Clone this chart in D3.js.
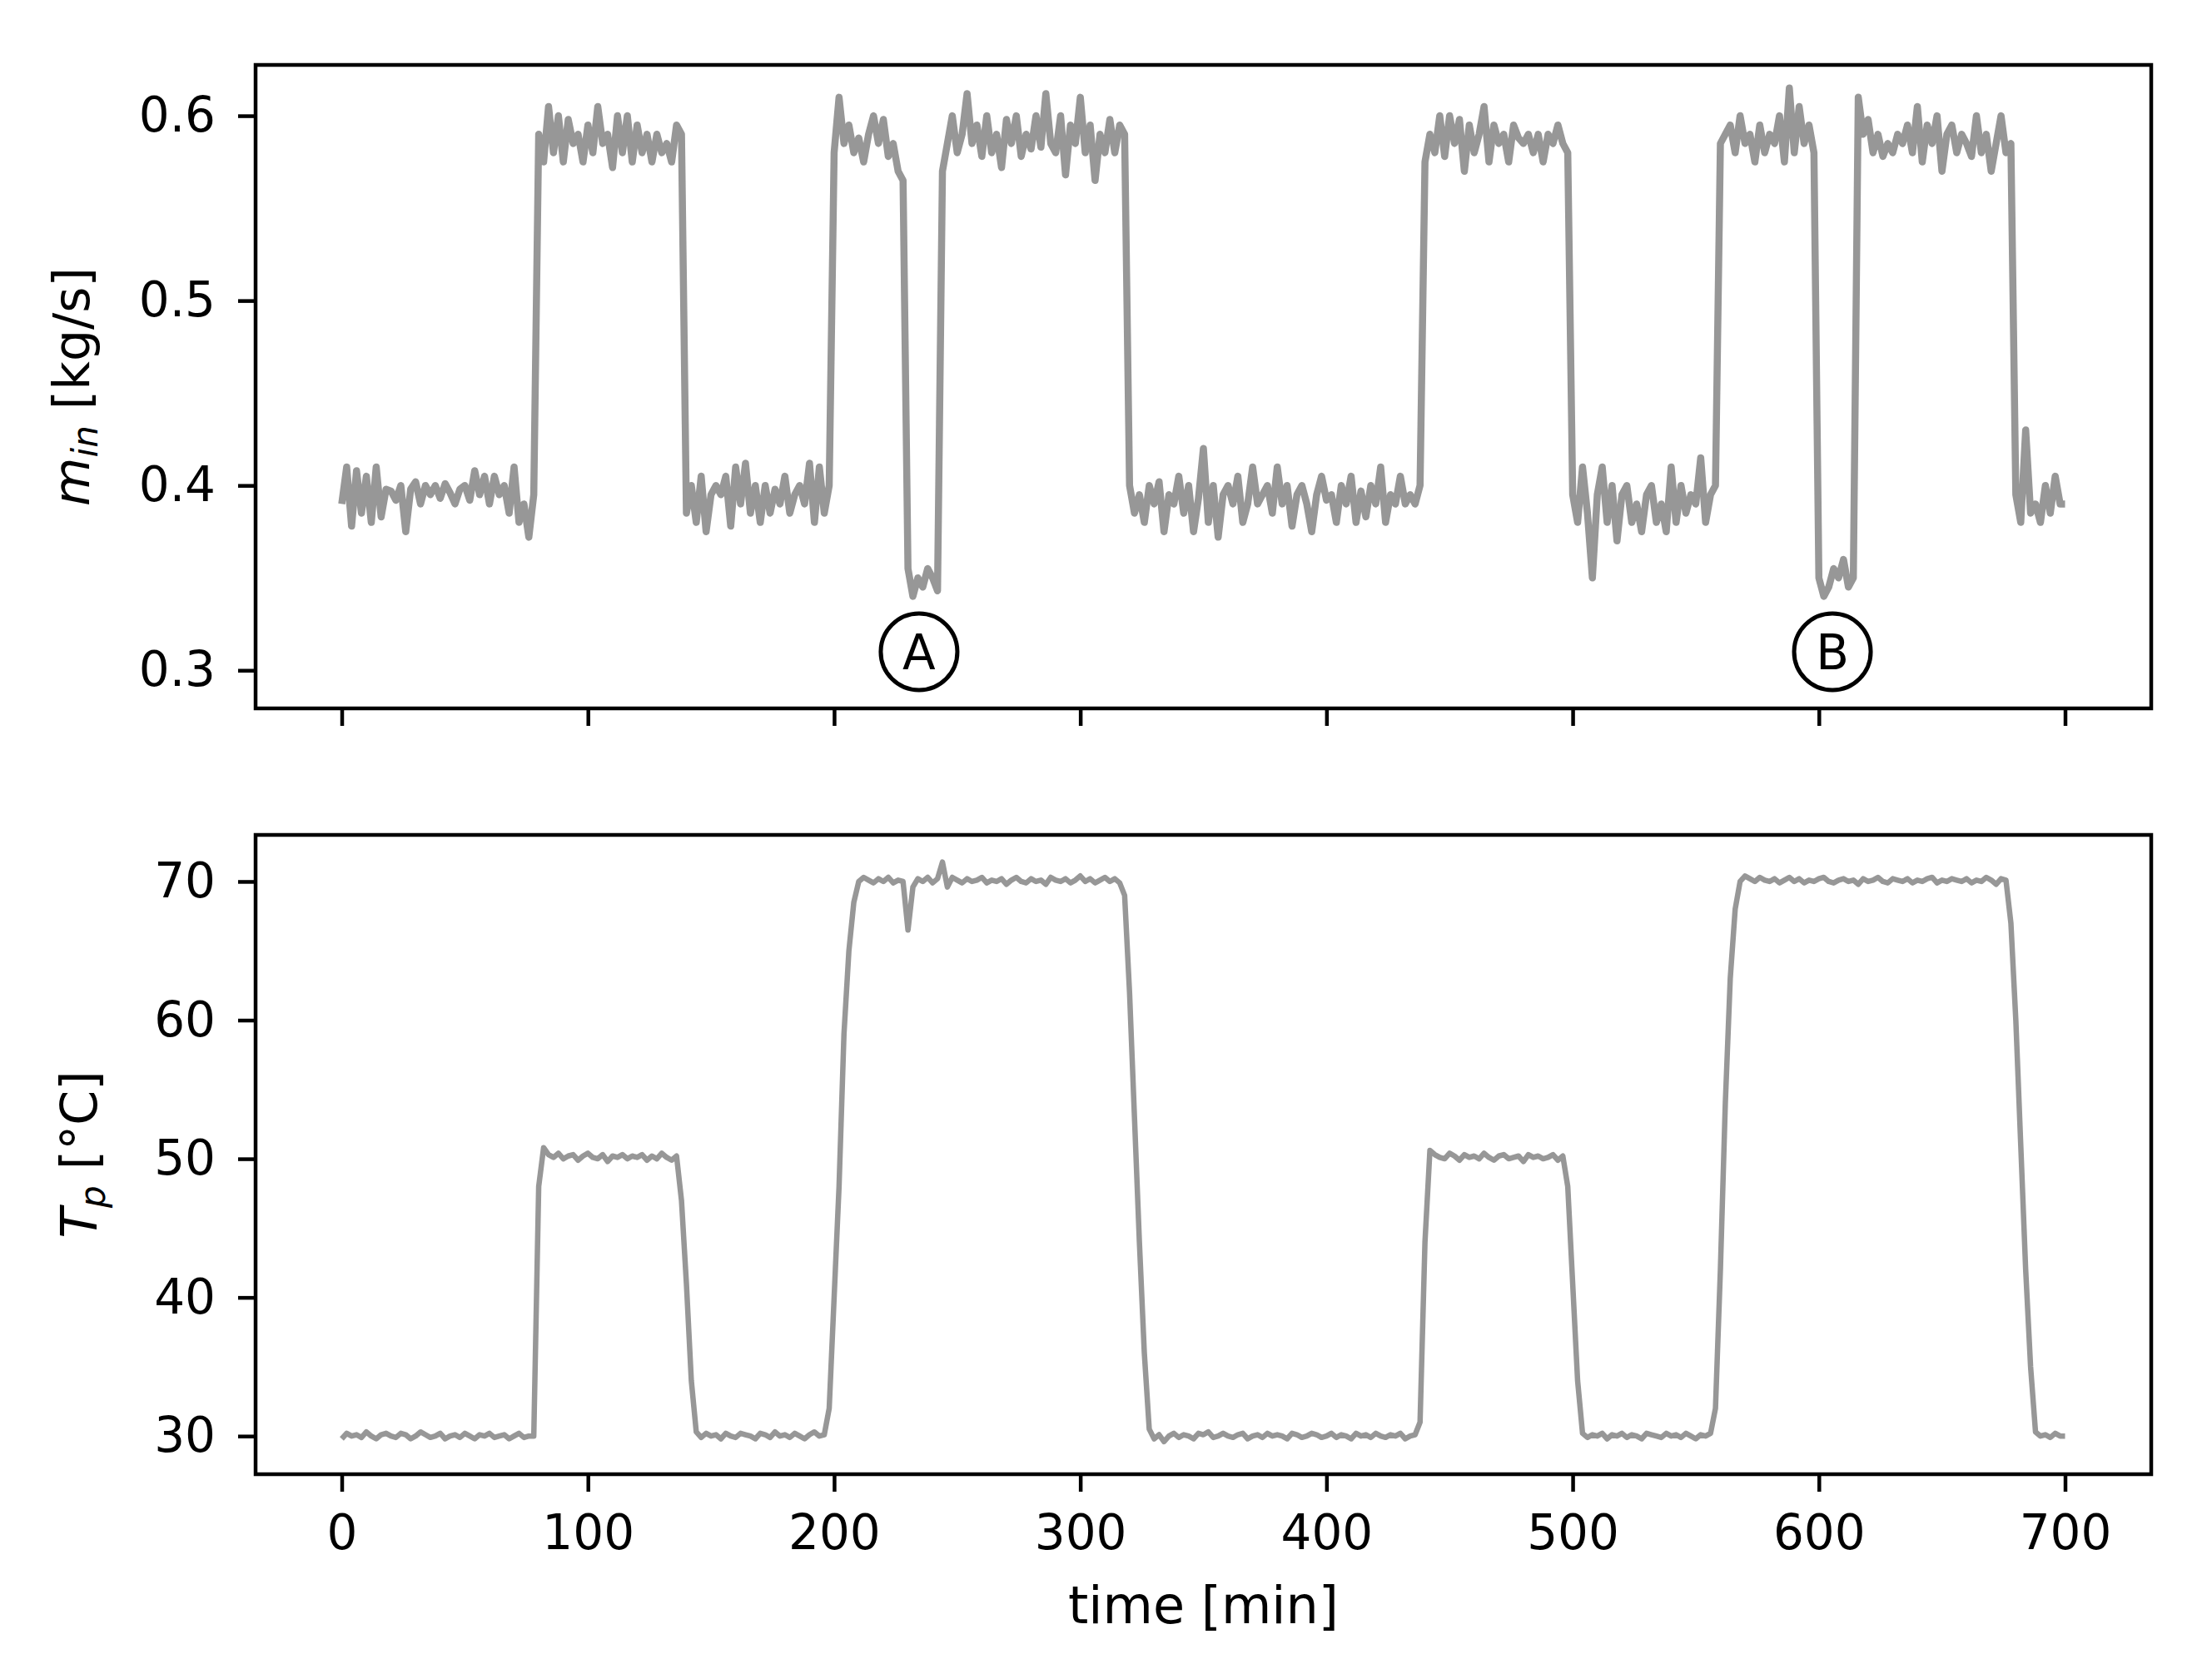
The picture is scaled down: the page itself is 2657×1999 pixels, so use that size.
<!DOCTYPE html>
<html>
<head>
<meta charset="utf-8">
<script src="https://cdn.jsdelivr.net/npm/d3@7"></script>
<style>
  html, body { margin: 0; padding: 0; background: #fff; }
  svg { display: block; }
  text { font-family: "DejaVu Sans", sans-serif; fill: #000; }
</style>
</head>
<body>
<svg id="chart" width="2657" height="1999"></svg>
<script>
// ---- Data (sampled every 2 minutes, t = 0 .. 700 min) ----
const sampleStepMin = 2;

const massFlowIn = [
  0.390,0.410,0.378,0.408,0.385,0.405,0.380,0.410,0.383,0.398,
  0.397,0.392,0.400,0.375,0.398,0.402,0.390,0.400,0.395,0.400,
  0.393,0.401,0.396,0.390,0.398,0.400,0.392,0.408,0.395,0.405,
  0.390,0.405,0.395,0.400,0.385,0.410,0.380,0.390,0.372,0.395,
  0.590,0.575,0.605,0.580,0.600,0.575,0.598,0.585,0.590,0.575,
  0.595,0.580,0.605,0.585,0.590,0.572,0.600,0.580,0.600,0.575,
  0.595,0.580,0.590,0.575,0.590,0.580,0.585,0.575,0.595,0.590,
  0.385,0.400,0.380,0.405,0.375,0.395,0.400,0.395,0.405,0.378,
  0.410,0.390,0.412,0.385,0.400,0.380,0.400,0.385,0.398,0.390,
  0.405,0.385,0.395,0.400,0.390,0.412,0.380,0.410,0.385,0.400,
  0.580,0.610,0.585,0.595,0.580,0.588,0.575,0.590,0.600,0.585,
  0.598,0.578,0.585,0.570,0.565,0.355,0.340,0.350,0.345,0.355,
  0.350,0.343,0.570,0.585,0.600,0.580,0.590,0.612,0.585,0.595,
  0.578,0.600,0.580,0.590,0.572,0.598,0.585,0.600,0.578,0.590,
  0.582,0.600,0.583,0.612,0.585,0.580,0.600,0.568,0.595,0.585,
  0.610,0.580,0.595,0.565,0.590,0.580,0.598,0.580,0.595,0.590,
  0.400,0.385,0.395,0.380,0.400,0.390,0.402,0.375,0.395,0.390,
  0.405,0.385,0.400,0.375,0.393,0.420,0.380,0.400,0.372,0.395,
  0.400,0.390,0.405,0.380,0.390,0.410,0.390,0.395,0.400,0.385,
  0.410,0.390,0.400,0.378,0.395,0.400,0.390,0.375,0.395,0.405,
  0.392,0.395,0.380,0.400,0.390,0.405,0.380,0.397,0.383,0.400,
  0.390,0.410,0.380,0.395,0.390,0.405,0.390,0.395,0.390,0.400,
  0.575,0.590,0.580,0.600,0.578,0.600,0.585,0.598,0.570,0.595,
  0.580,0.590,0.605,0.575,0.595,0.585,0.590,0.575,0.595,0.588,
  0.585,0.590,0.580,0.590,0.575,0.590,0.585,0.595,0.585,0.580,
  0.395,0.380,0.410,0.385,0.350,0.395,0.410,0.380,0.400,0.370,
  0.395,0.400,0.380,0.390,0.375,0.395,0.400,0.380,0.390,0.375,
  0.410,0.380,0.400,0.385,0.395,0.390,0.415,0.380,0.395,0.400,
  0.585,0.590,0.595,0.580,0.600,0.585,0.590,0.575,0.595,0.580,
  0.590,0.585,0.600,0.575,0.615,0.580,0.605,0.585,0.595,0.580,
  0.350,0.340,0.345,0.355,0.350,0.360,0.345,0.350,0.610,0.590,
  0.598,0.580,0.590,0.578,0.585,0.580,0.590,0.585,0.595,0.580,
  0.605,0.575,0.595,0.585,0.600,0.570,0.590,0.595,0.580,0.590,
  0.585,0.578,0.600,0.580,0.590,0.570,0.585,0.600,0.580,0.585,
  0.395,0.380,0.430,0.385,0.390,0.380,0.400,0.385,0.405,0.390,
  0.390
];

const tempP = [
  29.8,30.2,30.0,30.1,29.9,30.3,30.0,29.8,30.1,30.2,
  30.0,29.9,30.2,30.1,29.8,30.0,30.3,30.1,29.9,30.0,
  30.2,29.8,30.0,30.1,29.9,30.2,30.0,29.8,30.1,30.0,
  30.2,29.9,30.0,30.1,29.8,30.0,30.2,29.9,30.0,30.0,
  48.0,50.8,50.3,50.1,50.4,50.0,50.2,50.3,49.9,50.2,
  50.4,50.1,50.0,50.3,49.8,50.2,50.1,50.3,50.0,50.2,
  50.1,50.3,49.9,50.2,50.0,50.4,50.1,49.9,50.2,47.0,
  41.0,34.0,30.3,29.9,30.2,30.0,30.1,29.8,30.2,30.0,
  29.9,30.2,30.1,30.0,29.8,30.2,30.1,29.9,30.3,30.0,
  30.1,29.9,30.2,30.0,29.8,30.1,30.3,30.0,30.1,32.0,
  40.0,48.0,59.0,65.0,68.5,70.0,70.3,70.1,69.9,70.2,
  70.0,70.3,69.9,70.1,70.0,66.5,69.6,70.2,70.0,70.3,
  69.9,70.2,71.4,69.6,70.3,70.1,69.9,70.2,70.0,70.1,
  70.3,69.9,70.1,70.0,70.2,69.8,70.1,70.3,70.0,69.9,
  70.2,70.0,70.1,69.8,70.3,70.1,70.0,70.2,69.9,70.1,
  70.4,70.0,70.2,69.9,70.1,70.3,70.0,70.2,69.9,69.0,
  62.0,53.0,44.0,36.0,30.5,29.8,30.1,29.6,30.0,30.2,
  29.9,30.1,30.0,29.8,30.2,30.1,30.3,29.9,30.0,30.2,
  30.0,29.9,30.1,30.2,29.8,30.0,30.1,29.9,30.2,30.0,
  30.1,30.0,29.8,30.2,30.1,29.9,30.0,30.2,30.1,29.9,
  30.0,30.2,29.9,30.1,30.0,29.8,30.2,30.0,30.1,29.9,
  30.2,30.0,29.9,30.1,30.0,30.2,29.8,30.0,30.1,31.0,
  44.0,50.6,50.3,50.1,50.0,50.4,50.2,49.9,50.3,50.1,
  50.2,50.0,50.4,50.1,49.9,50.2,50.3,50.0,50.1,50.2,
  49.8,50.3,50.1,50.2,50.0,50.1,50.3,49.9,50.2,48.0,
  41.0,34.0,30.2,29.9,30.1,30.0,30.2,29.8,30.1,30.0,
  30.2,29.9,30.1,30.0,29.8,30.2,30.1,30.0,29.9,30.2,
  30.0,30.1,29.9,30.2,30.0,29.8,30.1,30.0,30.2,32.0,
  42.0,54.0,63.0,68.0,70.0,70.4,70.2,70.0,70.3,70.1,
  70.0,70.2,69.9,70.1,70.3,70.0,70.2,69.9,70.1,70.0,
  70.2,70.3,70.0,69.9,70.1,70.2,70.0,70.1,69.8,70.2,
  70.0,70.1,70.3,70.0,69.9,70.2,70.1,70.0,70.2,69.9,
  70.1,70.0,70.2,70.3,69.9,70.1,70.0,70.2,70.1,70.0,
  70.2,69.9,70.1,70.0,70.3,70.1,69.8,70.2,70.1,67.0,
  60.0,51.0,42.0,35.0,30.3,30.0,30.1,29.9,30.2,30.0,
  30.0
];

const xTicks = [0, 100, 200, 300, 400, 500, 600, 700];
const yTicksTop = [0.3, 0.4, 0.5, 0.6];
const yTicksBottom = [30, 40, 50, 60, 70];

const annotationLabels = ["A", "B"];
const annotationTimes = [234.5, 605.5];
const annotationValues = [0.31, 0.31];

// ---- Layout ----
const svg = d3.select("#chart");
const L = 307, R = 2584;
const top1 = 78, bot1 = 851;
const top2 = 1003, bot2 = 1771;
const lineColor = "#979797";
const FS = 58;

const x = d3.scaleLinear().domain([-35, 735]).range([L, R]);
const yTop = d3.scaleLinear().domain([0.2794, 0.6275]).range([bot1, top1]);
const yBot = d3.scaleLinear().domain([27.25, 73.36]).range([bot2, top2]);

const flowPts = massFlowIn.map((v, i) => [i * sampleStepMin, v]);
const tempPts = tempP.map((v, i) => [i * sampleStepMin, v]);

function styleAxis(g) {
  g.select(".domain").remove();
  g.selectAll(".tick line").attr("stroke", "#000").attr("stroke-width", 4.5);
  g.selectAll(".tick text").style("font-family", "DejaVu Sans").style("font-size", FS + "px").attr("fill", "#000");
}

// ---- Top panel ----
svg.append("path")
  .datum(flowPts)
  .attr("fill", "none")
  .attr("stroke", lineColor)
  .attr("stroke-width", 8.5)
  .attr("stroke-linejoin", "round")
  .attr("d", d3.line().x(d => x(d[0])).y(d => yTop(d[1])));

svg.append("g")
  .attr("transform", `translate(${L},0)`)
  .call(d3.axisLeft(yTop).tickValues(yTicksTop).tickFormat(d3.format(".1f")).tickSize(21).tickPadding(27))
  .call(styleAxis);

svg.append("g")
  .attr("transform", `translate(0,${bot1})`)
  .call(d3.axisBottom(x).tickValues(xTicks).tickFormat("").tickSize(21))
  .call(styleAxis);

svg.append("rect")
  .attr("x", L).attr("y", top1).attr("width", R - L).attr("height", bot1 - top1)
  .attr("fill", "none").attr("stroke", "#000").attr("stroke-width", 4.5);

const ann = svg.append("g").selectAll("g")
  .data(annotationLabels.map((l, i) => ({ label: l, t: annotationTimes[i], v: annotationValues[i] })))
  .join("g")
  .attr("transform", d => `translate(${x(d.t)},${yTop(d.v)})`);
ann.append("circle").attr("r", 46).attr("fill", "none").attr("stroke", "#000").attr("stroke-width", 5);
ann.append("text").attr("text-anchor", "middle").attr("dy", "0.36em")
  .style("font-size", FS + "px").text(d => d.label);

// y label top: m_in [kg/s]
const yl1 = svg.append("text")
  .attr("transform", `translate(107,${(top1 + bot1) / 2}) rotate(-90)`)
  .attr("text-anchor", "middle")
  .style("font-size", "60px");
yl1.append("tspan").style("font-style", "italic").text("m");
yl1.append("tspan").style("font-style", "italic").style("font-size", "42px").attr("dy", "10").text("in");
yl1.append("tspan").attr("dy", "-10").text(" [kg/s]");

// ---- Bottom panel ----
svg.append("path")
  .datum(tempPts)
  .attr("fill", "none")
  .attr("stroke", lineColor)
  .attr("stroke-width", 6.5)
  .attr("stroke-linejoin", "round")
  .attr("d", d3.line().x(d => x(d[0])).y(d => yBot(d[1])));

svg.append("g")
  .attr("transform", `translate(${L},0)`)
  .call(d3.axisLeft(yBot).tickValues(yTicksBottom).tickFormat(d3.format("d")).tickSize(21).tickPadding(27))
  .call(styleAxis);

svg.append("g")
  .attr("transform", `translate(0,${bot2})`)
  .call(d3.axisBottom(x).tickValues(xTicks).tickFormat(d3.format("d")).tickSize(21).tickPadding(28))
  .call(styleAxis);

svg.append("rect")
  .attr("x", L).attr("y", top2).attr("width", R - L).attr("height", bot2 - top2)
  .attr("fill", "none").attr("stroke", "#000").attr("stroke-width", 4.5);

const yl2 = svg.append("text")
  .attr("transform", `translate(116,${(top2 + bot2) / 2}) rotate(-90)`)
  .attr("text-anchor", "middle")
  .style("font-size", "60px");
yl2.append("tspan").style("font-style", "italic").text("T");
yl2.append("tspan").style("font-style", "italic").style("font-size", "42px").attr("dy", "10").text("p");
yl2.append("tspan").attr("dy", "-10").text(" [°C]");

svg.append("text")
  .attr("x", (L + R) / 2).attr("y", 1950)
  .attr("text-anchor", "middle")
  .style("font-size", "62px")
  .text("time [min]");
</script>
</body>
</html>
